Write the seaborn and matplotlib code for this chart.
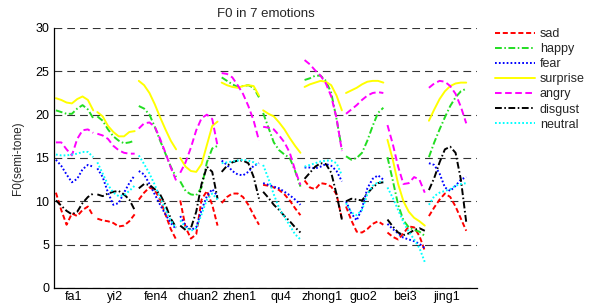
import numpy as np
import pandas as pd
import matplotlib

matplotlib.use("Agg")
import matplotlib.pyplot as plt
from matplotlib.lines import Line2D
import seaborn as sns

# syllables on the x axis
syllables = ["fa1", "yi2", "fen4", "chuan2", "zhen1", "qu4", "zhong1", "guo2", "bei3", "jing1"]
emotions = ["sad", "happy", "fear", "surprise", "angry", "disgust", "neutral"]

# F0 contour per syllable (8 samples each), semi-tones
sad = [
    [11.0, 9.0, 7.3, 8.6, 8.3, 9.0, 9.4, 8.3],
    [8.0, 7.8, 7.7, 7.5, 7.1, 7.2, 7.7, 8.5],
    [10.2, 11.0, 11.6, 11.3, 10.2, 8.5, 6.8, 5.6],
    [10.1, 7.0, 5.7, 6.2, 10.2, 11.2, 9.6, 7.2],
    [9.8, 10.5, 10.9, 10.9, 10.5, 9.6, 8.4, 7.3],
    [11.9, 11.8, 11.6, 11.3, 10.8, 10.1, 9.2, 8.4],
    [12.4, 11.6, 11.4, 12.1, 12.0, 11.7, 10.8, 8.0],
    [9.4, 7.8, 6.5, 6.4, 6.8, 7.4, 7.7, 7.3],
    [6.4, 5.9, 5.6, 6.3, 7.1, 7.0, 6.0, 4.3],
    [8.3, 9.3, 10.2, 10.9, 10.5, 9.4, 8.0, 6.6],
]
happy = [
    [20.5, 20.3, 20.1, 20.1, 20.7, 21.1, 20.6, 19.6],
    [19.8, 19.3, 18.3, 17.5, 17.0, 16.7, 16.8, 17.0],
    [21.0, 20.7, 20.0, 18.6, 17.0, 15.5, 14.0, 12.8],
    [12.3, 11.2, 10.8, 10.7, 11.6, 14.5, 16.1, 16.4],
    [24.3, 23.9, 23.5, 23.2, 23.3, 23.4, 23.1, 22.0],
    [20.2, 18.5, 16.8, 15.9, 15.4, 15.0, 13.5, 11.7],
    [24.0, 24.2, 24.5, 24.5, 23.9, 22.5, 19.5, 16.0],
    [15.2, 14.8, 15.0, 15.6, 17.0, 18.7, 20.2, 20.8],
    [15.1, 12.4, 9.6, 7.8, 7.0, 6.7, 6.5, 6.0],
    [15.1, 16.8, 18.3, 19.7, 21.0, 22.0, 22.7, 23.0],
]
fear = [
    [14.8, 14.1, 13.1, 12.2, 12.6, 13.7, 14.2, 14.0],
    [13.8, 12.8, 11.0, 9.6, 9.8, 11.0, 12.1, 13.0],
    [13.5, 13.1, 12.0, 10.8, 9.6, 8.5, 7.5, 6.8],
    [8.3, 7.2, 6.7, 7.0, 9.0, 10.6, 11.4, 10.6],
    [14.7, 14.2, 13.5, 13.1, 13.0, 13.4, 14.1, 14.4],
    [12.1, 11.9, 11.7, 11.5, 11.1, 10.7, 10.2, 9.6],
    [13.9, 13.9, 13.8, 14.0, 14.3, 14.1, 13.5, 12.3],
    [10.0, 8.6, 7.8, 9.2, 11.5, 12.6, 13.0, 12.5],
    [7.4, 6.8, 6.3, 5.8, 5.6, 5.4, 5.1, 4.6],
    [14.4, 14.2, 13.2, 11.6, 11.2, 11.8, 12.5, 12.8],
]
surprise = [
    [21.9, 21.7, 21.4, 21.3, 21.8, 22.1, 21.7, 20.5],
    [20.3, 19.8, 18.7, 18.0, 17.5, 17.5, 18.0, 18.1],
    [23.9, 23.4, 22.5, 21.2, 19.7, 18.3, 17.0, 16.0],
    [15.0, 14.0, 13.5, 13.4, 14.3, 16.5, 18.7, 19.2],
    [23.7, 23.4, 23.2, 23.1, 23.3, 23.4, 23.3, 22.2],
    [20.5, 20.1, 19.8, 19.1, 18.3, 17.3, 16.4, 15.6],
    [23.2, 23.5, 23.7, 23.9, 23.8, 23.4, 22.2, 20.5],
    [22.5, 22.8, 23.1, 23.5, 23.8, 23.9, 23.9, 23.7],
    [17.1, 14.8, 12.0, 10.0, 8.8, 8.1, 7.7, 7.2],
    [19.3, 20.6, 21.8, 22.7, 23.3, 23.6, 23.7, 23.7],
]
angry = [
    [16.8, 16.8, 16.0, 15.3, 17.2, 18.2, 18.3, 17.9],
    [17.8, 17.6, 17.2, 16.4, 15.9, 15.6, 15.5, 15.5],
    [18.4, 19.0, 19.1, 18.6, 17.2, 15.6, 13.9, 12.4],
    [13.3, 14.5, 16.2, 18.2, 19.6, 20.0, 19.5, 16.4],
    [24.8, 24.7, 24.3, 23.4, 22.4, 21.0, 19.3, 17.0],
    [18.6, 18.5, 18.3, 17.6, 16.8, 15.6, 13.6, 11.9],
    [26.3, 25.8, 25.1, 24.5, 23.6, 22.1, 19.6, 15.8],
    [20.1, 20.6, 21.1, 21.7, 22.2, 22.5, 22.6, 22.5],
    [18.8, 16.6, 14.0, 12.0, 12.1, 12.8, 12.5, 11.0],
    [23.1, 23.6, 23.9, 23.8, 23.3, 22.4, 20.9, 19.0],
]
disgust = [
    [10.1, 9.5, 8.9, 8.5, 8.8, 9.8, 10.5, 10.9],
    [10.8, 10.6, 10.9, 11.1, 11.2, 10.8, 10.2, 9.0],
    [11.5, 12.0, 11.9, 11.4, 10.8, 9.6, 8.0, 7.0],
    [7.2, 6.7, 6.9, 8.8, 12.0, 14.0, 13.4, 10.3],
    [13.4, 14.1, 14.5, 14.7, 14.7, 14.4, 12.8, 10.3],
    [11.1, 10.4, 9.6, 9.0, 8.3, 7.7, 7.0, 6.4],
    [12.6, 13.3, 14.0, 14.4, 14.3, 13.3, 10.8, 7.9],
    [10.0, 10.3, 10.2, 10.1, 10.9, 11.6, 12.1, 12.2],
    [7.9, 7.1, 6.4, 6.1, 6.3, 6.7, 6.9, 6.6],
    [11.3, 12.7, 14.5, 16.0, 16.3, 15.6, 12.5, 7.6],
]
neutral = [
    [15.4, 15.3, 15.3, 15.4, 15.5, 15.7, 15.7, 15.1],
    [14.5, 13.2, 11.9, 11.0, 10.6, 10.7, 11.2, 11.8],
    [15.3, 14.3, 13.2, 11.9, 10.4, 9.0, 7.8, 6.9],
    [7.8, 7.0, 6.6, 6.9, 8.5, 10.2, 10.9, 10.2],
    [14.4, 14.5, 14.6, 14.7, 14.8, 14.7, 14.5, 14.1],
    [14.2, 12.6, 10.8, 9.2, 8.2, 7.2, 6.2, 5.6],
    [14.0, 14.2, 14.4, 14.6, 14.7, 14.7, 14.4, 13.0],
    [9.8, 8.7, 8.4, 9.0, 10.8, 11.8, 12.2, 12.3],
    [11.6, 10.4, 9.0, 7.6, 6.5, 5.6, 4.6, 3.0],
    [9.6, 10.6, 11.0, 11.2, 11.4, 11.8, 12.0, 12.1],
]

series = dict(zip(emotions, [sad, happy, fear, surprise, angry, disgust, neutral]))

palette = {
    "sad": "#ff0000",
    "happy": "#22dd22",
    "fear": "#0000ff",
    "surprise": "#ffff00",
    "angry": "#ff00ff",
    "disgust": "#000000",
    "neutral": "#00ffff",
}
dashes = {
    "sad": (2.6, 1.4),
    "happy": (3.5, 1.3, 0.8, 1.3),
    "fear": (0.9, 1.1),
    "surprise": "",
    "angry": (3.4, 1.8),
    "disgust": (3.5, 1.3, 0.8, 1.3),
    "neutral": (0.9, 1.1),
}

# long table: one unit per (emotion, syllable) segment
offsets = np.linspace(-0.42, 0.48, 8)
rows = []
for emo in emotions:
    for i, seg in enumerate(series[emo]):
        for off, val in zip(offsets, seg):
            rows.append({"x": i + off, "F0": val, "emotion": emo, "unit": f"{emo}_{i}"})
df = pd.DataFrame(rows)

sns.set_theme(style="white")
plt.rcParams["font.family"] = ["Liberation Sans", "DejaVu Sans"]

fig = plt.figure(figsize=(5.99, 3.04), dpi=100)
ax = fig.add_axes([54 / 599, 16 / 304, 423 / 599, 260 / 304])

sns.lineplot(
    data=df, x="x", y="F0", hue="emotion", style="emotion", units="unit",
    estimator=None, palette=palette, dashes=dashes, hue_order=emotions,
    style_order=emotions, linewidth=1.4, legend=False, ax=ax,
)

ax.set_xlim(-0.466, 9.74)
ax.set_ylim(0, 30)
ax.set_xticks(range(len(syllables)))
ax.set_xticklabels(syllables)
ax.set_yticks(range(0, 31, 5))
ax.set_xlabel("")
ax.set_ylabel("F0(semi-tone)", fontsize=8.5, labelpad=8)
ax.set_title("F0 in 7 emotions", fontsize=9.5, pad=8)

ax.yaxis.grid(True, linestyle=(0, (7, 4.5)), color="0.2", linewidth=0.8)
ax.xaxis.grid(False)
ax.set_axisbelow(True)
for side in ("top", "right"):
    ax.spines[side].set_visible(False)
for side in ("left", "bottom"):
    ax.spines[side].set_color("black")
    ax.spines[side].set_linewidth(0.9)
ax.tick_params(axis="both", direction="in", length=4, width=0.8, labelsize=9, colors="black")
ax.tick_params(axis="x", pad=2.5)

handles = [
    Line2D([], [], color=palette[e], linewidth=1.4,
           linestyle="-" if dashes[e] == "" else (0, dashes[e]))
    for e in emotions
]
fig.legend(
    handles, emotions, loc="upper left", bbox_to_anchor=(495 / 599, 1 - 28 / 304),
    frameon=False, fontsize=9, handlelength=3.2, handletextpad=0.4,
    labelspacing=0.25, borderpad=0, borderaxespad=0,
)

fig.savefig("out.png", dpi=100, facecolor="white")
plt.close(fig)
